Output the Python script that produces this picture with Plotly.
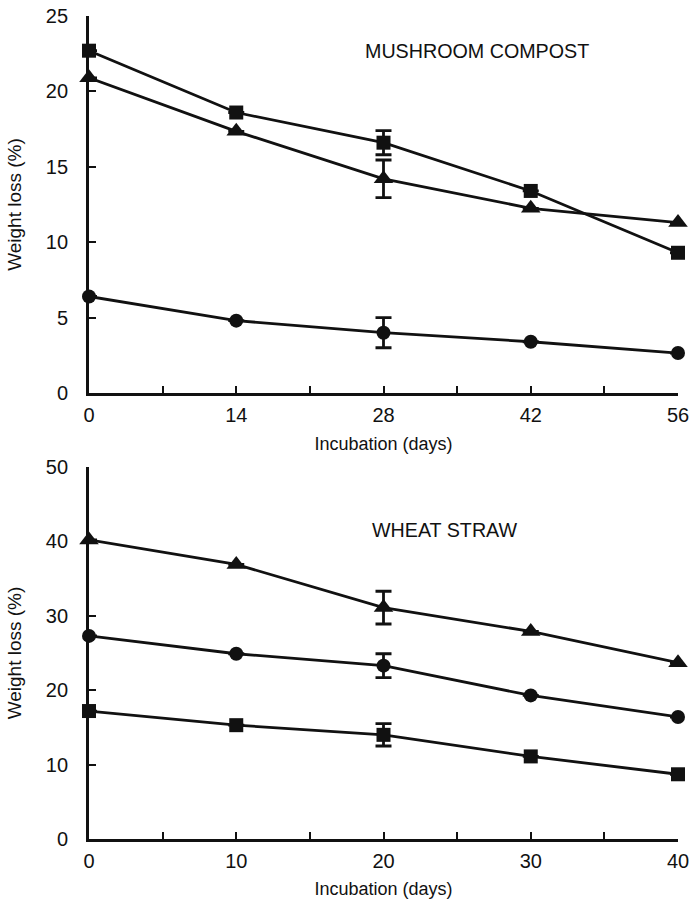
import plotly.graph_objects as go
from plotly.subplots import make_subplots

# ---- data: Mushroom compost (top panel) ----
mc_days = [0, 14, 28, 42, 56]
mc_square = [22.7, 18.6, 16.6, 13.4, 9.3]
mc_triangle = [20.9, 17.35, 14.2, 12.25, 11.3]
mc_circle = [6.4, 4.8, 4.0, 3.4, 2.65]
mc_square_err = [None, None, 0.8, None, None]
mc_triangle_err = [None, None, 1.25, None, None]
mc_circle_err = [None, None, 1.0, None, None]

# ---- data: Wheat straw (bottom panel) ----
ws_days = [0, 10, 20, 30, 40]
ws_triangle = [40.2, 36.9, 31.1, 27.9, 23.7]
ws_circle = [27.3, 24.9, 23.3, 19.3, 16.4]
ws_square = [17.2, 15.3, 14.0, 11.1, 8.7]
ws_triangle_err = [None, None, 2.2, None, None]
ws_circle_err = [None, None, 1.6, None, None]
ws_square_err = [None, None, 1.5, None, None]

mc_ticks = [0, 14, 28, 42, 56]
ws_ticks = [0, 10, 20, 30, 40]

FONT = "Liberation Sans, Arial, sans-serif"
BLACK = "#111111"

fig = make_subplots(rows=2, cols=1, vertical_spacing=0.0)

def add_series(x, y, err, symbol, size, row):
    fig.add_trace(go.Scatter(
        x=x, y=y, mode="lines+markers",
        line=dict(color=BLACK, width=2.8),
        marker=dict(symbol=symbol, size=size, color=BLACK),
        error_y=dict(type="data", array=err, visible=True, color=BLACK,
                     thickness=2.8, width=8),
        cliponaxis=False, showlegend=False,
    ), row=row, col=1)

add_series(mc_days, mc_square, mc_square_err, "square", 14, 1)
add_series(mc_days, mc_triangle, mc_triangle_err, "triangle-up", 17, 1)
add_series(mc_days, mc_circle, mc_circle_err, "circle", 14, 1)

add_series(ws_days, ws_triangle, ws_triangle_err, "triangle-up", 17, 2)
add_series(ws_days, ws_circle, ws_circle_err, "circle", 14, 2)
add_series(ws_days, ws_square, ws_square_err, "square", 14, 2)

axis_common = dict(
    showline=True, linecolor=BLACK, linewidth=2.8, mirror=False,
    showgrid=False, zeroline=False, automargin=False,
    ticks="inside", ticklen=7, tickwidth=2, tickcolor=BLACK,
    tickfont=dict(family=FONT, size=20, color=BLACK),
)

xtitle_font = dict(family=FONT, size=18, color=BLACK)
ytitle_font = dict(family=FONT, size=19, color=BLACK)

# top panel axes
fig.update_xaxes(range=[0, 56], tickvals=mc_ticks, domain=[0, 1],
                 minor=dict(ticks="inside", dtick=7, tick0=0, ticklen=7,
                            tickwidth=2, tickcolor=BLACK),
                 ticklabelstandoff=2,
                 title=dict(text="Incubation (days)", standoff=13, font=xtitle_font),
                 **axis_common, row=1, col=1)
fig.update_yaxes(range=[0, 25], dtick=5, domain=[0.5419, 1.0],
                 ticklabelstandoff=14,
                 title=dict(text="Weight loss (%)", standoff=20, font=ytitle_font),
                 **axis_common, row=1, col=1)

# bottom panel axes
fig.update_xaxes(range=[0, 40], tickvals=ws_ticks, domain=[0, 1],
                 minor=dict(ticks="inside", dtick=5, tick0=0, ticklen=7,
                            tickwidth=2, tickcolor=BLACK),
                 ticklabelstandoff=2,
                 title=dict(text="Incubation (days)", standoff=12, font=xtitle_font),
                 **axis_common, row=2, col=1)
fig.update_yaxes(range=[0, 50], dtick=10, domain=[0.0, 0.452],
                 ticklabelstandoff=14,
                 title=dict(text="Weight loss (%)", standoff=20, font=ytitle_font),
                 **axis_common, row=2, col=1)

fig.add_annotation(text="MUSHROOM COMPOST", x=36.9, y=22.7, xref="x", yref="y",
                   showarrow=False, font=dict(family=FONT, size=19.7, color=BLACK))
fig.add_annotation(text="WHEAT STRAW", x=24.2, y=41.6, xref="x2", yref="y2",
                   showarrow=False, font=dict(family=FONT, size=19.7, color=BLACK))

fig.update_layout(
    width=692, height=905,
    margin=dict(l=89, r=14, t=16, b=66),
    plot_bgcolor="white", paper_bgcolor="white",
    font=dict(family=FONT, color=BLACK),
)

fig.write_html("out.html",
               config={"displayModeBar": False},
               post_script="document.body.style.margin='0';"
                           "document.body.style.overflow='hidden';")
